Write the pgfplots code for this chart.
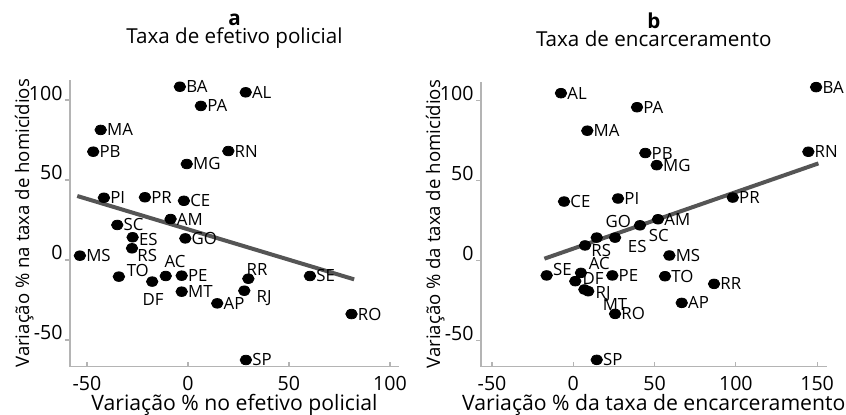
\documentclass[border=0pt]{standalone}
\usepackage{fontspec}
\setmainfont{Open Sans}
\usepackage{pgfplots}
\pgfplotsset{compat=1.18}
\usepackage{pgfplotstable}

\definecolor{axgray}{HTML}{B4B4B4}
\definecolor{fitgray}{HTML}{555555}

% x y label dx dy  (dx, dy: label offset in px of the reference)
\pgfplotstableread{
x y lbl dx dy
-4 108.3 BA 6 0
28.6 104.8 AL 6 0
6.4 96.3 PA 6 0
-43.2 81.3 MA 6 0
-46.9 67.7 PB 6 0
20 68.1 RN 6 0
-0.6 60 MG 6 0
-41.6 38.9 PI 6 0
-21.3 39.2 PR 6 0
-2 37 CE 6 0
-8.6 25.6 AM 6 0
-35 21.9 SC 6 0
-27.4 14.2 ES 6 -2
-1.3 13.5 GO 6 0
-27.7 7.3 RS 5 -6.7
-53.5 2.7 MS 6 0
-34.2 -10.4 TO 7.5 6.4
-17.7 -13.5 DF -10 -17.8
-11 -10 AC -1.5 14
-3.1 -9.8 PE 6 0
-3.1 -19.8 MT 6 0
29.9 -11.7 RR -2 9.6
27.9 -19.2 RJ 12 -7.5
14.5 -27.1 AP 6 0
60.4 -10 SE 6 0
81 -33.8 RO 6 0
28.7 -62.5 SP 6 0
}\policia

\pgfplotstableread{
x y lbl dx dy
-7.6 104.8 AL 6 0
149.4 108.6 BA 6 0
39.2 96 PA 6 0
8.6 81.3 MA 6 0
44.3 67.3 PB 6 0
144.6 68.1 RN 6 0
51.3 59.7 MG 6 0
-5.7 36.9 CE 6 0
27.5 38.8 PI 6 0
98.1 39.4 PR 6 0
52.1 25.8 AM 6 0
41 22 SC 8.5 -9.7
25.7 14.3 ES 12.5 -8.4
14.4 14.3 GO 8.5 16.6
7.2 9.4 RS 6 -5.5
59.1 3.1 MS 6 0
-16.4 -9.4 SE 6 5.5
4.7 -7.8 AC 7.5 9.5
1.2 -13 DF 7 2.7
24 -9.4 PE 6 0
56.4 -9.9 TO 6 0
86.6 -14.7 RR 6 0
9.2 -19.3 RJ 7 -2.5
6.8 -18.2 MT 18 -15
66.7 -26.6 AP 6 0
25.7 -33.5 RO 6 0
14.4 -62.3 SP 6 0
}\prisao

\pgfplotsset{
  painel/.style={
    scale only axis,
    axis lines*=left,
    axis line style={axgray, line width=0.75pt},
    every tick/.style={axgray, line width=0.6pt},
    major tick length=2.5pt,
    xtick align=inside,
    ytick align=outside,
    clip=false,
    /pgf/number format/assume math mode=true,
    tick label style={font=\fontsize{9.8}{10}\selectfont, inner sep=0pt},
    yticklabel style={anchor=base east, xshift=-1pt},
    xticklabel style={anchor=base, yshift=-11.7pt},
    label style={inner sep=0pt},
    xlabel style={font=\fontsize{10.6}{11}\selectfont,
      at={(axis description cs:0.5,0)}, anchor=base, yshift=-22pt},
    ylabel style={font=\fontsize{9.3}{10}\selectfont},
    ytick={-50,0,50,100},
  },
  pontos/.style={
    only marks, mark=*, black,
    mark size=2.4pt, mark options={xscale=1.2},
    nodes near coords,
    point meta=explicit symbolic,
    visualization depends on={\thisrow{dx}\as\dx},
    visualization depends on={\thisrow{dy}\as\dy},
    nodes near coords style={anchor=west, inner sep=0pt,
      font=\fontsize{8.4}{9}\selectfont,
      xshift={0.5pt*\dx}, yshift={0.5pt*\dy}},
  },
}

\begin{document}
\begin{tikzpicture}
\useasboundingbox (-35pt,-23.65pt) rectangle (388pt,183.35pt);

\begin{axis}[painel,
  at={(0,0)}, anchor=south west,
  width=164.5pt, height=143.35pt,
  xmin=-58.4, xmax=104.5, ymin=-66.7, ymax=112.5,
  xtick={-50,0,50,100},
  xlabel={Variação \% no efetivo policial},
  ylabel={Variação \% na taxa de homicídios},
  ylabel style={at={(axis description cs:-0.1246,0.5)}, anchor=base},
]
\addplot[fitgray, line width=2pt] coordinates {(-54.8,40) (82.3,-12.1)};
\addplot[pontos] table[x=x, y=y, meta=lbl] {\policia};
\node[anchor=base, font=\fontsize{10.3}{11}\selectfont, inner sep=0pt]
  at (axis description cs:0.5,1) [yshift=18.35pt] {Taxa de efetivo policial};
\node[anchor=base, font=\fontsize{10.3}{11}\selectfont\bfseries, inner sep=0pt]
  at (axis description cs:0.5,1) [yshift=27.5pt] {a};
\end{axis}

\begin{axis}[painel,
  at={(205.5pt,0)}, anchor=south west,
  width=172.85pt, height=142.5pt,
  xmin=-56.8, xmax=155.9, ymin=-66.6, ymax=112,
  xtick={-50,0,50,100,150},
  xlabel={Variação \% da taxa de encarceramento},
  ylabel={Variação \% da taxa de homicídios},
  ylabel style={at={(axis description cs:-0.1186,0.5)}, anchor=base},
]
\addplot[fitgray, line width=2pt] coordinates {(-17.8,1.1) (150.8,60.8)};
\addplot[pontos] table[x=x, y=y, meta=lbl] {\prisao};
\node[anchor=base, font=\fontsize{10.3}{11}\selectfont, inner sep=0pt]
  at (axis description cs:0.5,1) [yshift=17.6pt] {Taxa de encarceramento};
\node[anchor=base, font=\fontsize{10.3}{11}\selectfont\bfseries, inner sep=0pt]
  at (axis description cs:0.5,1) [yshift=26.8pt] {b};
\end{axis}
\end{tikzpicture}
\end{document}
